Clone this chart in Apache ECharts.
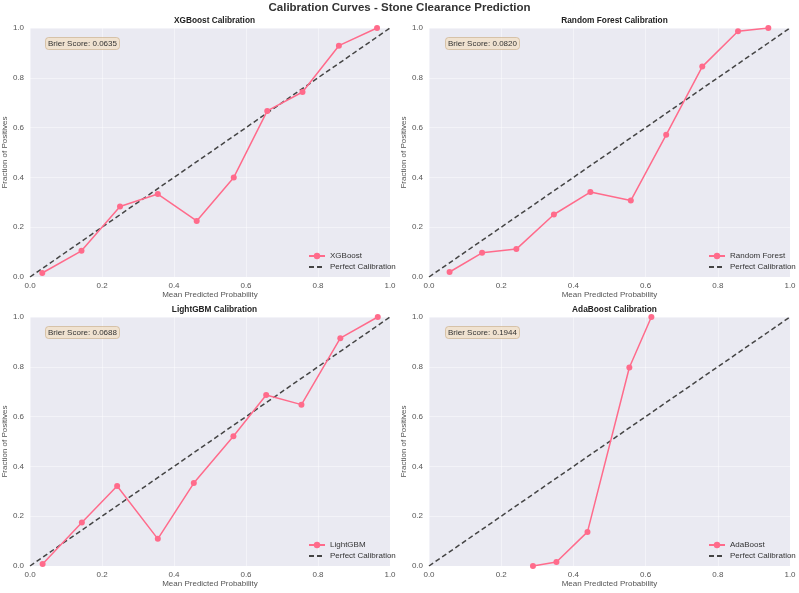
<!DOCTYPE html>
<html>
<head>
<meta charset="utf-8">
<script src="https://cdn.jsdelivr.net/npm/echarts@6/dist/echarts.min.js"></script>
<style>
  html, body { margin: 0; padding: 0; background: #fff; }
  #chart { width: 799px; height: 593px; }
</style>
</head>
<body>
<div id="chart"></div>
<script>
// calibration data
var modelNames = ["XGBoost", "Random Forest", "LightGBM", "AdaBoost"];
var brierScores = ["0.0635", "0.0820", "0.0688", "0.1944"];

var xgbX = [0.034, 0.143, 0.250, 0.355, 0.463, 0.566, 0.659, 0.757, 0.858, 0.964];
var xgbY = [0.016, 0.105, 0.283, 0.333, 0.225, 0.400, 0.667, 0.743, 0.929, 1.0];

var rfX = [0.057, 0.147, 0.242, 0.346, 0.447, 0.559, 0.657, 0.757, 0.856, 0.940];
var rfY = [0.020, 0.097, 0.112, 0.251, 0.341, 0.307, 0.571, 0.845, 0.987, 1.0];

var lgbX = [0.035, 0.144, 0.242, 0.355, 0.455, 0.565, 0.656, 0.754, 0.862, 0.966];
var lgbY = [0.008, 0.175, 0.321, 0.109, 0.333, 0.521, 0.687, 0.648, 0.915, 1.0];

var adaX = [0.288, 0.353, 0.439, 0.555, 0.616];
var adaY = [0.0, 0.016, 0.137, 0.797, 1.0];

var perfectLine = [[0, 0], [1, 1]];

var curveX = [xgbX, rfX, lgbX, adaX];
var curveY = [xgbY, rfY, lgbY, adaY];

var lineColor = "#ff6b8b";
var textColor = "#555";

// panel boxes in pixels (plot area)
var panels = [
  { left: 29, top: 28 },
  { left: 429, top: 28 },
  { left: 29, top: 317 },
  { left: 429, top: 317 }
];
var panelW = 361, panelH = 249;

function zip(a, b) {
  return a.map(function (v, i) { return [v, b[i]]; });
}

var grids = [], xAxes = [], yAxes = [], series = [], titles = [], legends = [];

titles.push({
  text: "Calibration Curves - Stone Clearance Prediction",
  left: "center",
  top: -3,
  textStyle: { fontFamily: "Liberation Sans", fontSize: 11.5, fontWeight: "bold", color: "#333" }
});

panels.forEach(function (p, i) {
  grids.push({
    left: p.left, top: p.top, width: panelW, height: panelH,
    show: true, backgroundColor: "#eaeaf2", borderWidth: 0
  });
  xAxes.push({
    type: "value", gridIndex: i, min: 0, max: 1, interval: 0.2,
    name: "Mean Predicted Probability", nameLocation: "middle", nameGap: 14,
    nameTextStyle: { fontFamily: "Liberation Sans", fontSize: 8, color: textColor },
    axisLine: { show: false }, axisTick: { show: false },
    axisLabel: { fontFamily: "Liberation Sans", fontSize: 8, color: textColor, margin: 5,
      formatter: function (v) { return v.toFixed(1); } },
    splitLine: { show: true, lineStyle: { color: "rgba(255,255,255,0.45)", width: 1 } }
  });
  yAxes.push({
    type: "value", gridIndex: i, min: 0, max: 1, interval: 0.2,
    name: "Fraction of Positives", nameLocation: "middle", nameGap: 18,
    nameTextStyle: { fontFamily: "Liberation Sans", fontSize: 8, color: textColor },
    axisLine: { show: false }, axisTick: { show: false },
    axisLabel: { fontFamily: "Liberation Sans", fontSize: 8, color: textColor, margin: 6,
      formatter: function (v) { return v.toFixed(1); } },
    splitLine: { show: true, lineStyle: { color: "rgba(255,255,255,0.45)", width: 1 } }
  });
  titles.push({
    text: modelNames[i] + " Calibration",
    left: p.left + panelW / 2, textAlign: "center",
    top: p.top - 16,
    textStyle: { fontFamily: "Liberation Sans", fontSize: 8.3, fontWeight: "bold", color: "#222" }
  });
  titles.push({
    text: "Brier Score: " + brierScores[i],
    left: p.left + 16, top: p.top + 9,
    padding: [3, 3, 2, 3],
    backgroundColor: "rgba(243,220,185,0.6)",
    borderColor: "rgba(200,170,130,0.6)", borderWidth: 1, borderRadius: 3,
    textStyle: { fontFamily: "Liberation Sans", fontSize: 8, fontWeight: "normal", color: "#333" }
  });
  series.push({
    name: modelNames[i], type: "line",
    xAxisIndex: i, yAxisIndex: i,
    data: zip(curveX[i], curveY[i]),
    symbol: "circle", symbolSize: 6,
    lineStyle: { color: lineColor, width: 1.5 },
    itemStyle: { color: lineColor },
    z: 3
  });
  series.push({
    name: "Perfect Calibration", type: "line",
    xAxisIndex: i, yAxisIndex: i,
    data: perfectLine,
    symbol: "none",
    lineStyle: { color: "#444", width: 1.5, type: [5, 3] },
    itemStyle: { color: "#444" },
    z: 2
  });
  legends.push({
    data: [
      modelNames[i],
      { name: "Perfect Calibration", itemStyle: { opacity: 0 } }
    ],
    orient: "vertical",
    left: p.left + panelW - 87,
    top: p.top + panelH - 30,
    itemWidth: 16, itemHeight: 8, itemGap: 3,
    textStyle: { fontFamily: "Liberation Sans", fontSize: 8, color: "#333" }
  });
});

var chart = echarts.init(document.getElementById("chart"));
chart.setOption({
  animation: false,
  backgroundColor: "#fff",
  title: titles,
  legend: legends,
  grid: grids,
  xAxis: xAxes,
  yAxis: yAxes,
  series: series
});
</script>
</body>
</html>
